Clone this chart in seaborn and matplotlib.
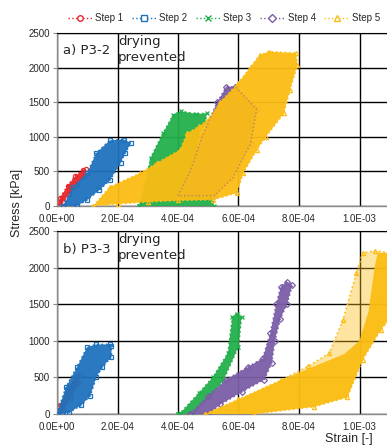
import numpy as np
import matplotlib
matplotlib.use("Agg")
import matplotlib.pyplot as plt
from matplotlib.lines import Line2D
from matplotlib.ticker import FuncFormatter
import seaborn as sns

# ---------------- data ----------------
steps = ["Step 1", "Step 2", "Step 3", "Step 4", "Step 5"]
colors = ["#e8262a", "#1f72bd", "#22b04b", "#7b5ea7", "#fbbd14"]
markers = ["o", "s", "x", "D", "^"]

# panel a) P3-2 : envelope of the cyclic loops (strain [-], stress [kPa])
a_step1_x = [0.0, 0.1e-4, 0.35e-4, 0.6e-4, 0.85e-4, 0.95e-4, 0.9e-4, 0.65e-4, 0.4e-4, 0.2e-4, 0.1e-4]
a_step1_y = [0, 120, 290, 430, 520, 530, 440, 300, 170, 60, 0]
a_step2_x = [0.2e-4, 0.53e-4, 1.0e-4, 1.3e-4, 1.75e-4, 2.2e-4, 2.45e-4, 2.25e-4, 2.1e-4, 1.75e-4, 1.4e-4, 1.0e-4, 0.66e-4]
a_step2_y = [0, 275, 475, 765, 950, 960, 910, 765, 620, 375, 230, 90, 0]
a_step3_x = [2.7e-4, 2.9e-4, 3.1e-4, 3.5e-4, 3.85e-4, 4.1e-4, 4.6e-4, 4.95e-4, 4.9e-4, 4.6e-4, 4.9e-4, 5.2e-4]
a_step3_y = [0, 300, 700, 1050, 1320, 1370, 1330, 1340, 1200, 950, 500, 0]
a_step4_x = [4.0e-4, 4.4e-4, 4.8e-4, 5.3e-4, 5.6e-4, 5.9e-4, 6.6e-4, 6.4e-4, 5.8e-4, 5.2e-4]
a_step4_y = [150, 500, 1000, 1500, 1720, 1720, 1400, 900, 400, 150]
a_step5_x = [1.2e-4, 1.75e-4, 2.75e-4, 3.3e-4, 4.07e-4, 4.3e-4, 4.7e-4, 5.0e-4, 5.4e-4, 6.0e-4, 6.4e-4,
             6.7e-4, 7.0e-4, 7.9e-4, 7.95e-4, 7.7e-4, 7.5e-4, 6.9e-4, 6.6e-4, 6.15e-4, 5.95e-4, 5.15e-4,
             4.0e-4, 3.0e-4, 2.0e-4]
a_step5_y = [0, 275, 475, 620, 810, 1050, 1150, 1250, 1500, 1780, 2010,
             2180, 2230, 2210, 2040, 1680, 1340, 1000, 810, 475, 190, 90,
             80, 60, 30]

# panel b) P3-3
b_step1_x = [0.0, 0.1e-4, 0.35e-4, 0.65e-4, 0.75e-4, 0.7e-4, 0.45e-4, 0.2e-4, 0.1e-4]
b_step1_y = [0, 120, 330, 520, 530, 420, 220, 50, 0]
b_step2_x = [0.0, 0.3e-4, 0.66e-4, 1.0e-4, 1.3e-4, 1.75e-4, 1.8e-4, 1.8e-4, 1.5e-4, 1.3e-4, 1.1e-4, 0.8e-4, 0.4e-4, 0.15e-4]
b_step2_y = [0, 370, 640, 915, 950, 950, 930, 780, 640, 505, 250, 120, 20, 0]
b_step3_x = [4.0e-4, 4.07e-4, 4.7e-4, 5.15e-4, 5.65e-4, 5.8e-4, 5.95e-4, 6.1e-4, 6.0e-4, 5.5e-4, 5.05e-4, 4.5e-4]
b_step3_y = [0, 10, 290, 500, 830, 1330, 1370, 1330, 920, 460, 230, 0]
b_step4_x = [4.4e-4, 5.0e-4, 5.6e-4, 6.3e-4, 6.8e-4, 7.05e-4, 7.25e-4, 7.4e-4, 7.6e-4,
             7.78e-4, 7.6e-4, 7.38e-4, 7.2e-4, 7.1e-4, 6.85e-4, 6.1e-4, 5.4e-4, 5.0e-4]
b_step4_y = [0, 250, 470, 640, 760, 1100, 1500, 1740, 1810,
             1760, 1500, 1300, 1000, 700, 470, 300, 130, 0]
b_step5_x = [4.9e-4, 6.0e-4, 7.4e-4, 8.3e-4, 9.0e-4, 9.45e-4, 9.9e-4, 1.01e-3, 1.05e-3, 1.1e-3,
             1.1e-3, 1.07e-3, 1.01e-3, 9.6e-4, 8.5e-4, 6.5e-4]
b_step5_y = [0, 200, 460, 650, 830, 1280, 1930, 2200, 2230, 2200,
             1300, 1150, 740, 230, 100, 0]
# dense core of the step-5 loops in panel b
b_step5_core_x = [4.9e-4, 6.0e-4, 7.4e-4, 8.5e-4, 9.5e-4, 1.0e-3, 1.03e-3, 1.05e-3, 1.06e-3, 1.1e-3,
                  1.1e-3, 1.07e-3, 1.01e-3, 9.6e-4, 8.5e-4, 6.5e-4]
b_step5_core_y = [0, 200, 460, 650, 820, 1000, 1400, 2000, 2200, 2200,
                  1300, 1150, 740, 230, 100, 0]

panel_labels = ["a) P3-2", "b) P3-3"]
note_text = "drying\nprevented"
x_ticks = [0.0, 2.0e-4, 4.0e-4, 6.0e-4, 8.0e-4, 1.0e-3]
y_ticks = [0, 500, 1000, 1500, 2000, 2500]

# ---------------- figure ----------------
sns.set_style("white")
plt.rcParams["font.family"] = ["Liberation Sans", "DejaVu Sans"]

W, H = 387, 446
fig = plt.figure(figsize=(W / 100, H / 100), dpi=100)

x_px0, px_per_unit = 57, 302.5e3  # pixel of x=0, pixels per unit strain
xmax = 1.2e-3
axw = xmax * px_per_unit / W

ax_a = fig.add_axes([x_px0 / W, (H - 206) / H, axw, 173 / H])
ax_b = fig.add_axes([x_px0 / W, (H - 414) / H, axw, 183 / H])

panels = {
    ax_a: [(a_step1_x, a_step1_y), (a_step2_x, a_step2_y), (a_step3_x, a_step3_y),
           (a_step4_x, a_step4_y), (a_step5_x, a_step5_y)],
    ax_b: [(b_step1_x, b_step1_y), (b_step2_x, b_step2_y), (b_step3_x, b_step3_y),
           (b_step4_x, b_step4_y), (b_step5_x, b_step5_y)],
}


def closed(v):
    return list(v) + [v[0]]


for ax, data in panels.items():
    for i, (xs, ys) in enumerate(data):
        c = colors[i]
        alpha = 0.95
        if ax is ax_b and i == 4:
            alpha = 0.4
        ax.fill(xs, ys, color=c, alpha=alpha, lw=0, zorder=2 + i)
        sns.lineplot(x=closed(xs), y=closed(ys), sort=False, estimator=None, ax=ax,
                     color=c, linestyle=":", linewidth=1.2, marker=markers[i],
                     markersize=3.0, markerfacecolor="none", markeredgecolor=c,
                     markeredgewidth=0.9, zorder=2 + i)
    if ax is ax_b:
        ax.fill(b_step5_core_x, b_step5_core_y, color=colors[4], alpha=0.95, lw=0, zorder=6)

# purple loops visible through the yellow band in panel a
sns.lineplot(x=closed(a_step4_x), y=closed(a_step4_y), sort=False, estimator=None, ax=ax_a,
             color=colors[3], linestyle=":", linewidth=1.0, alpha=0.55, zorder=8)

fmt = FuncFormatter(lambda v, p: "%.1E" % v)
for ax, lab in zip([ax_a, ax_b], panel_labels):
    ax.set_xlim(0, xmax)
    ax.set_ylim(0, 2500)
    ax.set_xticks(x_ticks)
    ax.set_yticks(y_ticks)
    ax.xaxis.set_major_formatter(fmt)
    ax.grid(True, color="black", linewidth=1.0, zorder=1)
    ax.set_axisbelow(True)
    for s in ["left", "bottom"]:
        ax.spines[s].set_color("#8a8a8a")
        ax.spines[s].set_linewidth(1.0)
    ax.spines["right"].set_visible(False)
    ax.spines["top"].set_color("black")
    ax.tick_params(axis="y", which="major", length=3, width=0.8, color="#8a8a8a",
                   labelsize=7, pad=2, left=True)
    ax.tick_params(axis="x", which="major", length=0, labelsize=7, pad=6)
    ax.set_xlabel("")
    ax.set_ylabel("")
    ax.text(0.017, 0.935, lab, transform=ax.transAxes, fontsize=9.5,
            family="DejaVu Sans", va="top", ha="left", zorder=20)
    ax.text(2.02e-4, 2470, note_text, fontsize=9.5, family="DejaVu Sans",
            va="top", ha="left", linespacing=1.25, zorder=20)

fig.text(349 / W, 1 - 439 / H, "Strain [-]", fontsize=9, ha="center", va="center")
fig.text(17 / W, 1 - 203 / H, "Stress [kPa]", fontsize=9, ha="center", va="center", rotation=90)

handles = [Line2D([], [], color=c, linestyle=":", linewidth=1.0, marker=m, markersize=4,
                  markerfacecolor="white", markeredgecolor=c, markeredgewidth=1.0)
           for c, m in zip(colors, markers)]
fig.legend(handles, steps, loc="center left", bbox_to_anchor=(68 / W, 1 - 18 / H), ncol=5,
           frameon=False, fontsize=7, handlelength=2.5, columnspacing=0.9,
           handletextpad=0.3, borderaxespad=0, borderpad=0)

fig.savefig("out.png", dpi=100)
